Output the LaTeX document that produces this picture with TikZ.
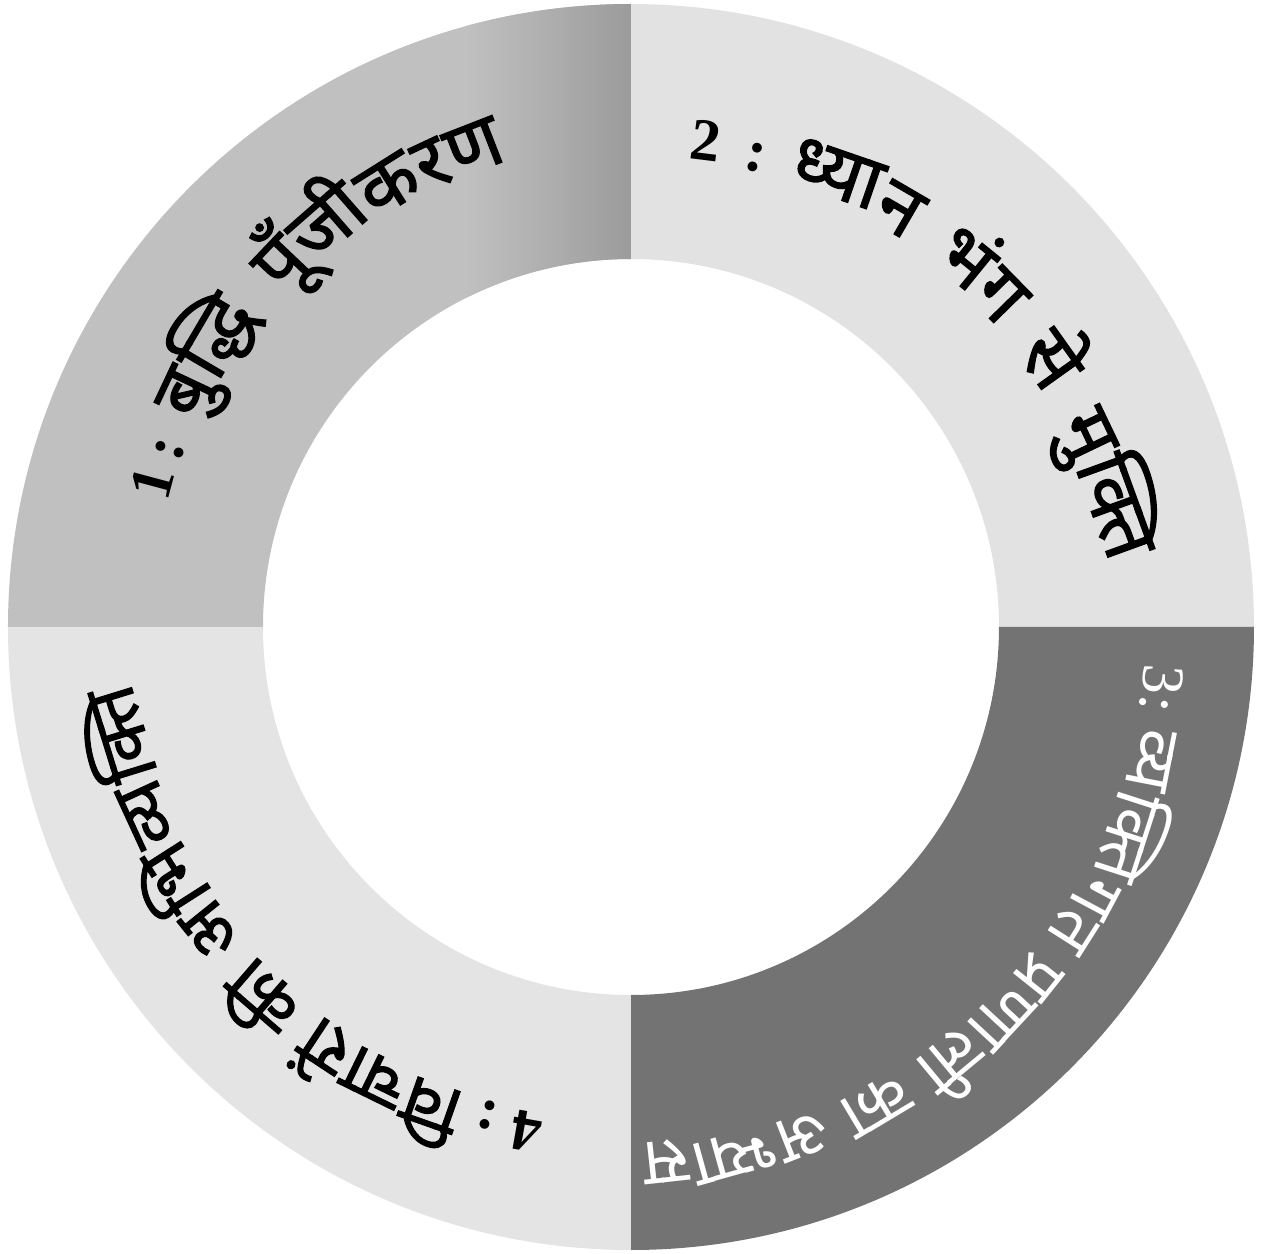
\documentclass[tikz,border=0pt]{standalone}
\usepackage{fontspec}
\newfontfamily\devfont[Script=Devanagari]{Noto Sans}
\newfontfamily\devbold[Script=Devanagari,FakeBold=1.6]{Noto Sans}
\newfontfamily\numfont{Liberation Serif}
\usetikzlibrary{calc}

\definecolor{segA}{gray}{0.753}
\definecolor{segAdark}{gray}{0.61}
\definecolor{segB}{gray}{0.886}
\definecolor{segC}{gray}{0.45}
\definecolor{segD}{gray}{0.894}

\newcommand\nb{\numfont\bfseries\fontsize{30}{34}\selectfont}
\newcommand\nr{\numfont\fontsize{30}{34}\selectfont}
\newcommand\db{\devbold\fontsize{38}{44}\selectfont}
\newcommand\dbs{\devbold\fontsize{35}{42}\selectfont}
\newcommand\dr{\devfont\fontsize{33.5}{40}\selectfont}
\newcommand\gap{\kern0.4em}
\newcommand\sgap{\kern0.25em}

% text bent round the ring, one syllable per node
% #1 radius, #2 start angle, #3 font, #4 name, #5 syllables
\newcommand\arclabel[5]{%
  \xdef\curang{#2}%
  \foreach \s [count=\i] in {#5} {%
    \node[ring text, rotate=\curang-90] (#4-\i) at (\curang:#1) {#3\s};
    \path let \p1=(#4-\i.base east), \n1={atan2(\y1,\x1)} in \pgfextra{\xdef\curang{\n1}};
  }%
}

\begin{document}
\begin{tikzpicture}[x=0.5pt,y=0.5pt]
\tikzset{ring text/.style={inner sep=0pt, anchor=base west}}
\useasboundingbox (-631,-627) rectangle (635,627);

% Ring quarters
\fill[segB] (90:623) arc[start angle=90, end angle=0, radius=623] -- (0:368) arc[start angle=0, end angle=90, radius=368] -- cycle;
\fill[segC] (0:623) arc[start angle=0, end angle=-90, radius=623] -- (-90:368) arc[start angle=-90, end angle=0, radius=368] -- cycle;
\fill[segD] (-90:623) arc[start angle=-90, end angle=-180, radius=623] -- (180:368) arc[start angle=180, end angle=270, radius=368] -- cycle;
\begin{scope}
  \clip (180:623) arc[start angle=180, end angle=90, radius=623] -- (90:368) arc[start angle=90, end angle=180, radius=368] -- cycle;
  \fill[segA] (-640,0) rectangle (0,640);
  \shade[left color=segA, right color=segAdark] (-165,0) rectangle (0,640);
\end{scope}

% Labels
\arclabel{480}{165}{\db}{one}{{\nb 1\,}, {\nb :\gap}, बु, {द्धि\gap}, पूँ, जी, क, र, ण}
\arclabel{472}{83}{\db}{two}{{\nb 2\gap}, {\nb :\gap}, ध्या, {न\gap}, भं, {ग\gap}, {से\gap}, मु, क्ति}
\arclabel{515}{-4}{\dr\color{white}}{three}{{\nr 3}, {\nr :\sgap}, व्य, क्ति, ग, {त\sgap}, प्र, णा, {ली\sgap}, {का\sgap}, अ, भ्या, स}
\arclabel{495}{-100}{\dbs}{four}{{\nb 4\sgap}, {\nb :\sgap}, वि, चा, {रों\sgap}, {की\sgap}, अ, भि, व्य, क्ति}

\end{tikzpicture}
\end{document}
